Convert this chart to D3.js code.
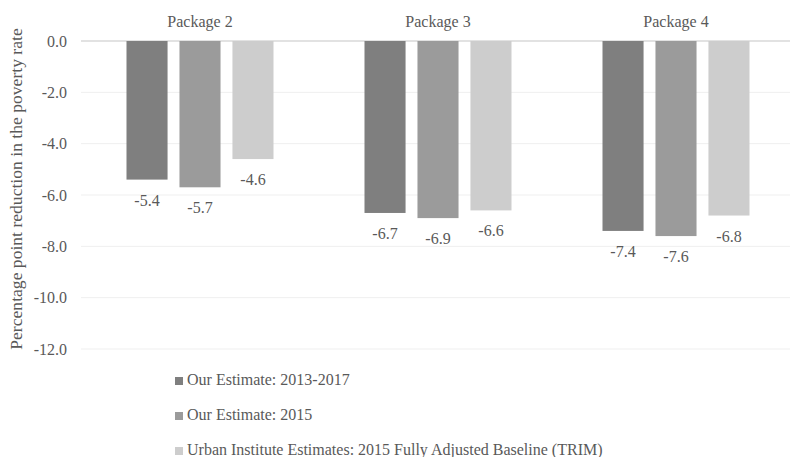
<!DOCTYPE html>
<html>
<head>
<meta charset="utf-8">
<script src="https://cdn.jsdelivr.net/npm/d3@7"></script>
<style>
  body { margin: 0; background: #fff; }
  svg text { font-family: "Liberation Serif", "Times New Roman", serif; fill: #595959; }
</style>
</head>
<body>
<svg id="chart" width="790" height="457"></svg>
<script>
const packages = ['Package 2', 'Package 3', 'Package 4'];
const seriesNames = [
    'Our Estimate: 2013-2017',
    'Our Estimate: 2015',
    'Urban Institute Estimates: 2015 Fully Adjusted Baseline (TRIM)'
];
const estimate1317 = [-5.4, -6.7, -7.4];
const estimate2015 = [-5.7, -6.9, -7.6];
const urbanTrim = [-4.6, -6.6, -6.8];
const yTicks = [0, -2, -4, -6, -8, -10, -12];
const colors = ['#7f7f7f', '#9b9b9b', '#cdcdcd'];

const allSeries = [estimate1317, estimate2015, urbanTrim];
const svg = d3.select('#chart');

// excel style numbers, plain hyphen for the minus sign
const fmt = v => d3.format('.1f')(v).replace('\u2212', '-');

// plot area
const plotLeft = 81, plotRight = 795, plotTop = 41, plotBottom = 349;

const x = d3.scaleBand().domain(packages).range([plotLeft, plotRight]).paddingInner(0).paddingOuter(0);
const xInner = d3.scaleBand().domain(d3.range(3)).range([45.5, x.bandwidth() - 45.5]).paddingInner(0.225);
const y = d3.scaleLinear().domain([0, -12]).range([plotTop, plotBottom]);

// gridlines
svg.append('g')
    .selectAll('line')
    .data(yTicks)
    .join('line')
    .attr('x1', plotLeft)
    .attr('x2', 790)
    .attr('y1', d => y(d))
    .attr('y2', d => y(d))
    .attr('stroke', d => d === 0 ? '#d9d9d9' : '#efefef')
    .attr('stroke-width', d => d === 0 ? 1.5 : 1);

// y axis tick labels
const yAxis = d3.axisLeft(y).tickValues(yTicks).tickFormat(fmt).tickSize(0).tickPadding(14);
const yg = svg.append('g').attr('transform', `translate(${plotLeft},0)`).call(yAxis);
yg.select('.domain').remove();
yg.selectAll('text')
    .style('font-family', '"Liberation Serif", serif')
    .style('font-size', '16px')
    .attr('fill', '#595959');

// y axis title
svg.append('text')
    .attr('transform', 'translate(22,189) rotate(-90)')
    .attr('text-anchor', 'middle')
    .style('font-size', '17.6px')
    .text('Percentage point reduction in the poverty rate');

// package labels on top
svg.append('g')
    .selectAll('text')
    .data(packages)
    .join('text')
    .attr('x', d => x(d) + x.bandwidth() / 2)
    .attr('y', 27)
    .attr('text-anchor', 'middle')
    .style('font-size', '16px')
    .text(d => d);

// bars
const groups = svg.append('g')
    .selectAll('g')
    .data(packages)
    .join('g')
    .attr('transform', d => `translate(${x(d)},0)`);

groups.each(function(pkg, pi) {
    const g = d3.select(this);
    allSeries.forEach((vals, si) => {
        const v = vals[pi];
        g.append('rect')
            .attr('x', xInner(si))
            .attr('y', y(0))
            .attr('width', xInner.bandwidth())
            .attr('height', y(v) - y(0))
            .attr('fill', colors[si]);
        g.append('text')
            .attr('x', xInner(si) + xInner.bandwidth() / 2)
            .attr('y', y(v) + 26)
            .attr('text-anchor', 'middle')
            .style('font-size', '16px')
            .attr('fill', '#404040')
            .text(fmt(v));
    });
});

// legend
const legend = svg.append('g')
    .selectAll('g')
    .data(seriesNames)
    .join('g')
    .attr('transform', (d, i) => `translate(175,${377 + i * 35})`);

legend.append('rect')
    .attr('width', 8)
    .attr('height', 8)
    .attr('fill', (d, i) => colors[i]);

legend.append('text')
    .attr('x', 12)
    .attr('y', 8)
    .style('font-size', '16px')
    .text(d => d);
</script>
</body>
</html>
